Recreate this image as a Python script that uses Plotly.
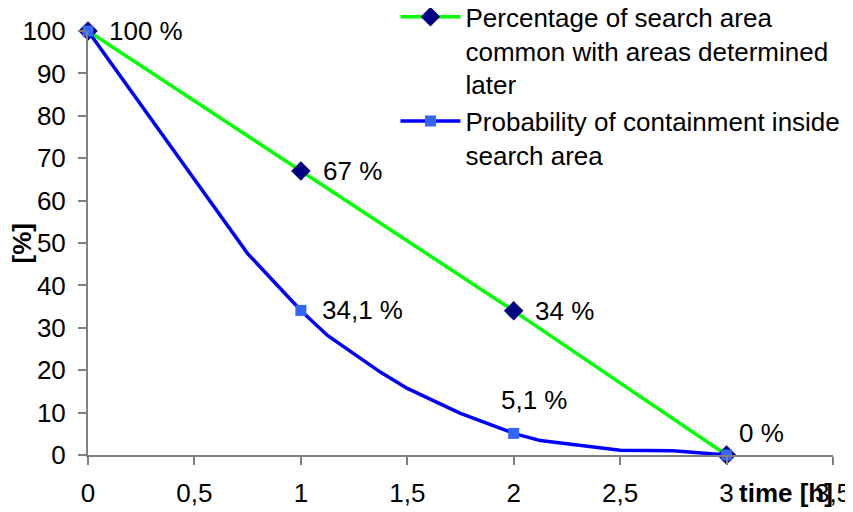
import plotly.graph_objects as go

# ---- data ----
time_green = [0, 1, 2, 3]
pct_common = [100, 67, 34, 0]

time_blue = [0, 0.75, 1, 1.125, 1.375, 1.5, 1.75, 2, 2.125, 2.375, 2.5, 2.75, 3]
prob_contain = [100, 47.5, 34.1, 28.2, 19.5, 15.7, 9.8, 5.1, 3.4, 1.8, 1.1, 1.0, 0]

marker_time_blue = [0, 1, 2, 3]
marker_prob_blue = [100, 34.1, 5.1, 0]

x_ticks = [0, 0.5, 1, 1.5, 2, 2.5, 3, 3.5]
y_ticks = [0, 10, 20, 30, 40, 50, 60, 70, 80, 90, 100]

name_green = "Percentage of search area<br>common with areas determined<br>later"
name_blue = "Probability of containment inside<br>search area"

# which points get a data label
green_label_idx = [0, 1, 2, 3]
blue_label_idx = [1, 2]

FONT = "Liberation Sans, Arial, sans-serif"
FS = 26
GREEN = "#00FF00"
BLUE = "#0000FF"
NAVY = "#000080"
LBLUE = "#3366FF"
AXIS = "#808080"
LW = 3.5

# the page body keeps its default 8px margin, so the figure is drawn 8px
# in from the top-left corner of the window; size it to end at the window edge
PAGE_OFFSET = 8


def fmt(v):
    s = ("%g" % v).replace(".", ",")
    return s + " %"


fig = go.Figure()

# legend entries
fig.add_trace(go.Scatter(x=[None], y=[None], mode="lines+markers", name=name_green,
                         line=dict(color=GREEN, width=LW),
                         marker=dict(symbol="diamond", size=15, color=NAVY)))
fig.add_trace(go.Scatter(x=[None], y=[None], mode="lines+markers", name=name_blue,
                         line=dict(color=BLUE, width=LW),
                         marker=dict(symbol="square", size=11, color=LBLUE)))

# real marks
fig.add_trace(go.Scatter(x=time_green, y=pct_common, mode="lines+markers", showlegend=False,
                         line=dict(color=GREEN, width=LW),
                         marker=dict(symbol="diamond", size=15, color=NAVY),
                         cliponaxis=False))
fig.add_trace(go.Scatter(x=time_blue, y=prob_contain, mode="lines", showlegend=False,
                         line=dict(color=BLUE, width=LW), cliponaxis=False))
fig.add_trace(go.Scatter(x=marker_time_blue, y=marker_prob_blue, mode="markers", showlegend=False,
                         marker=dict(symbol="square", size=11, color=LBLUE),
                         cliponaxis=False))

annotations = []
green_style = {0: dict(xshift=19, yshift=0, xanchor="left"),
               1: dict(xshift=20, yshift=0, xanchor="left"),
               2: dict(xshift=19, yshift=0, xanchor="left"),
               3: dict(xshift=10, yshift=22, xanchor="left")}
for i in green_label_idx:
    st = green_style[i]
    annotations.append(dict(x=time_green[i], y=pct_common[i], xref="x", yref="y",
                            text=fmt(pct_common[i]), showarrow=False,
                            xanchor=st["xanchor"], yanchor="middle",
                            xshift=st["xshift"], yshift=st["yshift"],
                            font=dict(family=FONT, size=FS, color="black")))
blue_style = {1: dict(xshift=19, yshift=0, xanchor="left"),
              2: dict(xshift=21, yshift=33, xanchor="center")}
for i in blue_label_idx:
    st = blue_style[i]
    annotations.append(dict(x=marker_time_blue[i], y=marker_prob_blue[i], xref="x", yref="y",
                            text=fmt(marker_prob_blue[i]), showarrow=False,
                            xanchor=st["xanchor"], yanchor="middle",
                            xshift=st["xshift"], yshift=st["yshift"],
                            font=dict(family=FONT, size=FS, color="black")))

# axis titles
annotations.append(dict(x=0.9365, y=-0.09, xref="paper", yref="paper", text="<b>time [h]</b>",
                        showarrow=False, xanchor="center", yanchor="middle",
                        font=dict(family=FONT, size=FS, color="black")))
annotations.append(dict(x=-0.088, y=0.5, xref="paper", yref="paper", text="<b>[%]</b>",
                        showarrow=False, xanchor="center", yanchor="middle", textangle=-90,
                        font=dict(family=FONT, size=FS, color="black")))

fig.update_layout(
    width=853 - PAGE_OFFSET, height=512 - PAGE_OFFSET,
    margin=dict(l=87.5 - PAGE_OFFSET, r=20, t=30.5 - PAGE_OFFSET, b=57, pad=0, autoexpand=False),
    paper_bgcolor="white", plot_bgcolor="white",
    separators=", ",
    font=dict(family=FONT, size=FS, color="black"),
    showlegend=True,
    legend=dict(x=0.4127, y=1.089, xanchor="left", yanchor="top", valign="top",
                font=dict(family=FONT, size=FS, color="black"),
                bgcolor="rgba(0,0,0,0)", itemwidth=60, tracegroupgap=0),
    annotations=annotations,
)
fig.update_xaxes(range=[0, 3.5], tickvals=x_ticks, showgrid=False, zeroline=False,
                 showline=True, linecolor=AXIS, linewidth=2,
                 ticks="outside", ticklen=8, tickcolor=AXIS, tickwidth=2,
                 ticklabelstandoff=6,
                 tickfont=dict(family=FONT, size=FS, color="black"))
fig.update_yaxes(range=[0, 100], tickvals=y_ticks, showgrid=False, zeroline=False,
                 showline=True, linecolor=AXIS, linewidth=2,
                 ticks="outside", ticklen=8, tickcolor=AXIS, tickwidth=2,
                 ticklabelstandoff=7,
                 tickfont=dict(family=FONT, size=FS, color="black"))

fig.write_html("out.html")
